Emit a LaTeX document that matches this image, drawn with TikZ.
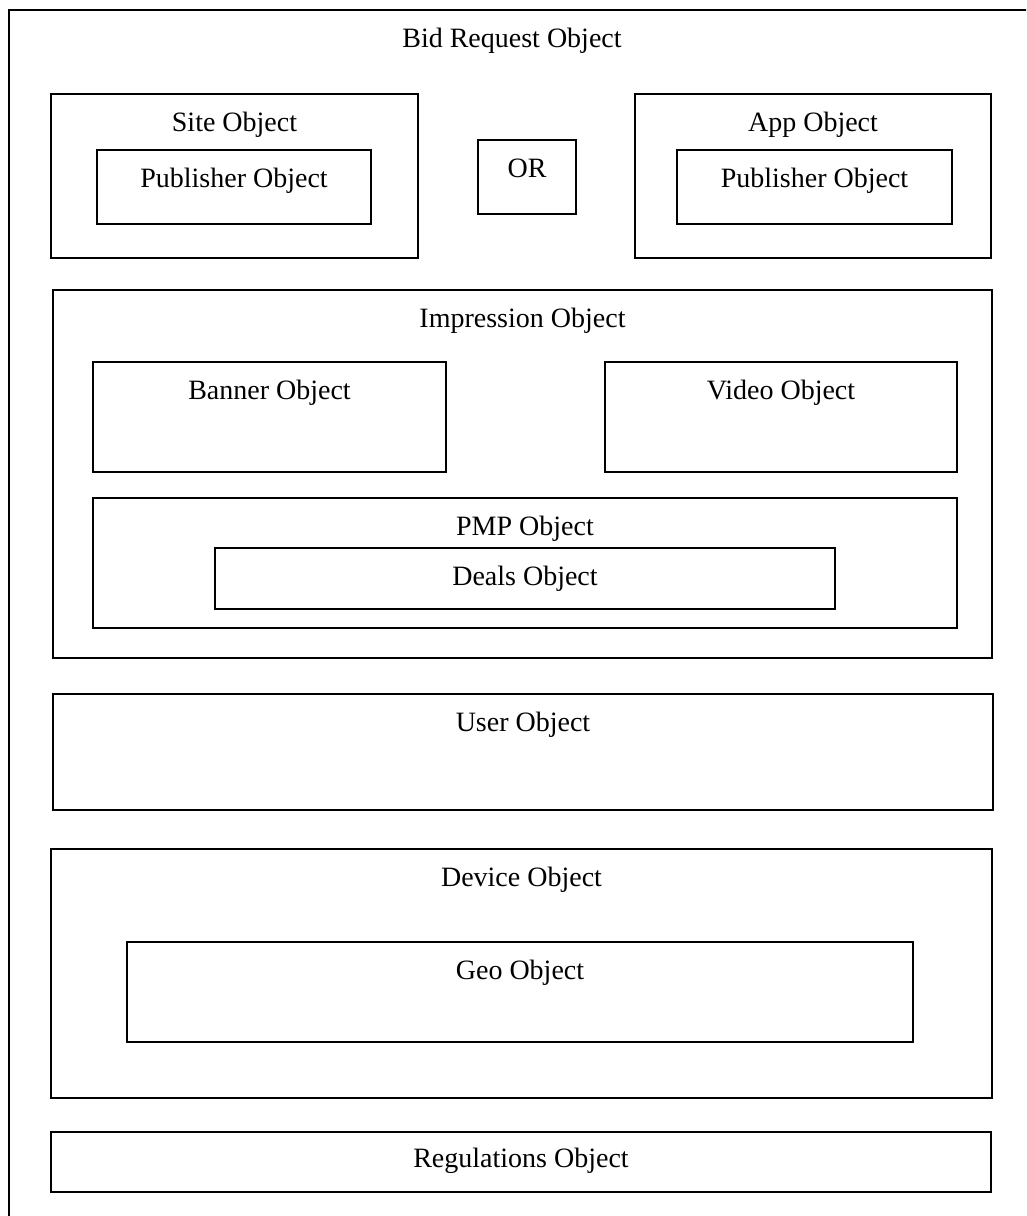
\documentclass[tikz,border=0pt]{standalone}
\usepackage{fontspec}
\setmainfont{Liberation Serif}

\begin{document}
\begin{tikzpicture}[x=1pt,y=-1pt,
  obj/.style={draw,line width=2pt,inner sep=0pt,outer sep=0pt,anchor=north west},
  lbl/.style={anchor=base,inner sep=0pt,font=\fontsize{28}{32}\selectfont}]
\clip (0,0) rectangle (1026,1216);
% outer frame, runs off the page right and below
\node[obj,minimum width=1040pt,minimum height=1240pt] (bid) at (9,10) {};
\node[lbl] (bidT) at (512,47) {Bid Request Object};

% site / app
\node[obj,minimum width=367pt,minimum height=164pt] (site) at (51,94) {};
\node[lbl] (siteT) at ([yshift=-37pt]site.north) {Site Object};
\node[obj,minimum width=274pt,minimum height=74pt] (sitepub) at (97,150) {};
\node[lbl] (sitepubT) at ([yshift=-37pt]sitepub.north) {Publisher Object};
\node[obj,minimum width=98pt,minimum height=74pt] (or) at (478,140) {};
\node[lbl] (orT) at ([yshift=-37pt]or.north) {OR};
\node[obj,minimum width=356pt,minimum height=164pt] (app) at (635,94) {};
\node[lbl] (appT) at ([yshift=-37pt]app.north) {App Object};
\node[obj,minimum width=275pt,minimum height=74pt] (apppub) at (677,150) {};
\node[lbl] (apppubT) at ([yshift=-37pt]apppub.north) {Publisher Object};

% impression
\node[obj,minimum width=939pt,minimum height=368pt] (imp) at (53,290) {};
\node[lbl] (impT) at ([yshift=-37pt]imp.north) {Impression Object};
\node[obj,minimum width=353pt,minimum height=110pt] (banner) at (93,362) {};
\node[lbl] (bannerT) at ([yshift=-37pt]banner.north) {Banner Object};
\node[obj,minimum width=352pt,minimum height=110pt] (video) at (605,362) {};
\node[lbl] (videoT) at ([yshift=-37pt]video.north) {Video Object};
\node[obj,minimum width=864pt,minimum height=130pt] (pmp) at (93,498) {};
\node[lbl] (pmpT) at ([yshift=-37pt]pmp.north) {PMP Object};
\node[obj,minimum width=620pt,minimum height=61pt] (deals) at (215,548) {};
\node[lbl] (dealsT) at ([yshift=-37pt]deals.north) {Deals Object};

% user, device, regs
\node[obj,minimum width=940pt,minimum height=116pt] (user) at (53,694) {};
\node[lbl] (userT) at ([yshift=-37pt]user.north) {User Object};
\node[obj,minimum width=941pt,minimum height=249pt] (device) at (51,849) {};
\node[lbl] (deviceT) at ([yshift=-37pt]device.north) {Device Object};
\node[obj,minimum width=786pt,minimum height=100pt] (geo) at (127,942) {};
\node[lbl] (geoT) at ([yshift=-37pt]geo.north) {Geo Object};
\node[obj,minimum width=940pt,minimum height=60pt] (regs) at (51,1132) {};
\node[lbl] (regsT) at ([yshift=-35pt]regs.north) {Regulations Object};
\end{tikzpicture}
\end{document}
